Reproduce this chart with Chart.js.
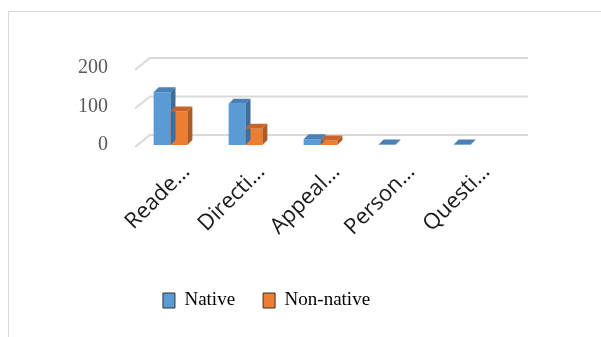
<!DOCTYPE html>
<html>
<head>
<meta charset="utf-8">
<script src="https://cdn.jsdelivr.net/npm/chart.js@4.4.1/dist/chart.umd.min.js"></script>
<style>
  html, body { margin: 0; padding: 0; background: #fff; }
  #frame { position: absolute; left: 8px; top: 11px; width: 640px; height: 360px; border: 1px solid #d9d9d9; }
  #wrap { position: absolute; left: 0; top: 0; width: 601px; height: 337px; }
</style>
</head>
<body>
<div id="frame"></div>
<div id="wrap"><canvas id="chart" width="601" height="337"></canvas></div>
<script>
const categories = ["Reade\u2026", "Directi\u2026", "Appeal\u2026", "Person\u2026", "Questi\u2026"];
const nativeValues = [137, 107, 15, 1, 1];
const nonNativeValues = [87, 42, 12, 0, 0];
const yTicks = [0, 100, 200];

const WALL_DX = 15, WALL_DY = 12, BAR_D = 5;

// back wall gridlines with the slanted left edge
const wallPlugin = {
  id: "wall",
  beforeDatasetsDraw(chart) {
    const { ctx, chartArea, scales } = chart;
    ctx.save();
    ctx.strokeStyle = "#d9d9d9";
    ctx.lineWidth = 2;
    yTicks.forEach(v => {
      const y = scales.y.getPixelForValue(v);
      ctx.beginPath();
      ctx.moveTo(chartArea.left + 2, y + 2);
      ctx.lineTo(chartArea.left + 2 + WALL_DX, y - WALL_DY + 2);
      ctx.lineTo(chartArea.right + 20, y - WALL_DY + 2);
      ctx.stroke();
    });
    ctx.restore();
  }
};

// top and side faces of each bar
const depthPlugin = {
  id: "depth",
  afterDatasetsDraw(chart) {
    const { ctx } = chart;
    const shades = [
      { top: "#4a80b5", side: "#3f6e9c" },
      { top: "#c9652a", side: "#ae5a21" }
    ];
    chart.data.datasets.forEach((ds, di) => {
      chart.getDatasetMeta(di).data.forEach((bar, i) => {
        if (!ds.data[i]) return;
        const { x, y, base, width } = bar.getProps(["x", "y", "base", "width"], true);
        const l = x - width / 2, r = x + width / 2;
        ctx.save();
        ctx.fillStyle = shades[di].top;
        ctx.beginPath();
        ctx.moveTo(l, y);
        ctx.lineTo(l + BAR_D, y - BAR_D);
        ctx.lineTo(r + BAR_D, y - BAR_D);
        ctx.lineTo(r, y);
        ctx.closePath();
        ctx.fill();
        ctx.fillStyle = shades[di].side;
        ctx.beginPath();
        ctx.moveTo(r, y);
        ctx.lineTo(r + BAR_D, y - BAR_D);
        ctx.lineTo(r + BAR_D, base - BAR_D);
        ctx.lineTo(r, base);
        ctx.closePath();
        ctx.fill();
        ctx.restore();
      });
    });
  }
};

new Chart(document.getElementById("chart"), {
  type: "bar",
  data: {
    labels: categories,
    datasets: [
      { label: "Native", data: nativeValues, backgroundColor: "#5b9bd5" },
      { label: "Non-native", data: nonNativeValues, backgroundColor: "#ed7d31" }
    ]
  },
  options: {
    responsive: false,
    animation: false,
    events: [],
    categoryPercentage: 0.45,
    barPercentage: 1.0,
    layout: { padding: { left: 25, right: 93, top: 68, bottom: 17 } },
    scales: {
      y: {
        min: 0,
        max: 200,
        afterBuildTicks: s => { s.ticks = yTicks.map(v => ({ value: v })); },
        afterFit: s => { s.width = 108; },
        grid: { display: false },
        border: { display: false },
        ticks: {
          padding: 17,
          color: "#595959",
          font: { family: "Liberation Serif", size: 20 }
        }
      },
      x: {
        afterFit: s => { s.height = 118; },
        grid: { display: false },
        border: { display: false },
        ticks: {
          autoSkip: false,
          minRotation: 45,
          maxRotation: 45,
          labelOffset: 16,
          padding: 6,
          color: "#1a1a1a",
          font: { family: "Open Sans", size: 22 }
        }
      }
    },
    plugins: {
      tooltip: { enabled: false },
      legend: {
        position: "bottom",
        labels: {
          boxWidth: 12,
          boxHeight: 15,
          padding: 28,
          color: "#595959",
          font: { family: "Liberation Serif", size: 19 },
          generateLabels: chart => chart.data.datasets.map((ds, i) => ({
            text: ds.label,
            fillStyle: ds.backgroundColor,
            strokeStyle: "#333",
            lineWidth: 1,
            datasetIndex: i
          }))
        }
      }
    }
  },
  plugins: [wallPlugin, depthPlugin]
});
</script>
</body>
</html>
